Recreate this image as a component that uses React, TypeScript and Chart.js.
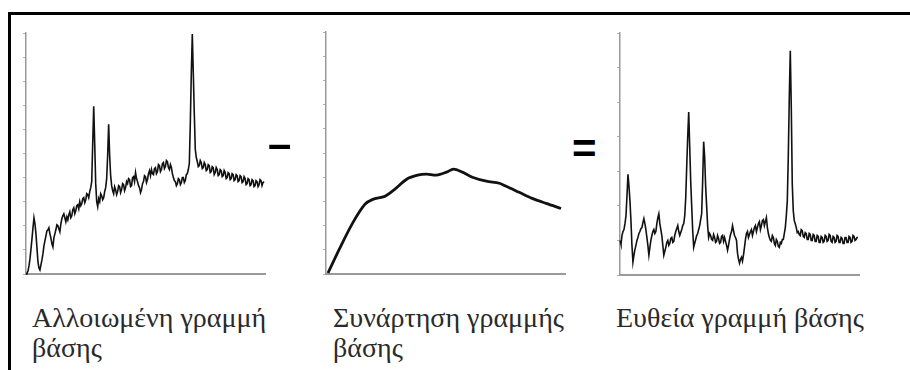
import React, { useEffect, useRef } from "react";
import { Chart, registerables } from "chart.js";

Chart.register(...registerables);

// Altered baseline spectrum: intensity per channel (channels 0..239)
const alteredY = [
  0,1,3,8,15,25,35,46,56,50,40,26,12,6,4,
  9,14,20,28,33,38,43,44,46,40,36,30,27,36,40,44,49,48,45,42,50,55,58,60,56,52,
  57,54,59,62,56,58,64,66,60,63,68,69,65,72,68,70,75,76,71,74,80,79,76,82,86,92,
  130,167,130,90,72,67,75,72,80,78,74,76,82,86,95,118,149,118,98,88,83,80,87,84,79,82,88,87,81,84,90,89,83,86,92,90,95,94,87,88,96,97,92,101,95,92,88,86,81,84,90,92,98,97,91,94,100,103,98,104,100,99,105,106,100,102,109,108,102,104,110,111,105,107,113,112,106,104,109,106,100,96,93,92,88,90,95,94,89,91,96,96,91,93,99,100,104,110,
  150,200,239,200,160,124,116,112,107,108,113,111,105,106,111,109,103,104,109,108,101,102,107,106,99,101,106,104,98,99,104,103,97,98,103,101,95,96,101,100,94,95,100,99,93,94,99,98,92,93,98,97,91,92,97,95,89,90,95,94,88,89,94,93,87,88,93,92,87,89,94,93,88,91,92
];

// Baseline function: channel positions and values
const baseX = [2,14,27,39,47,59,69,81,92,101,111,121,128,137,147,161,174,181,194,207,221,236];
const baseY = [1,26,51,69,74,77,84,94,98,99,98,101,104,101,96,92,90,87,81,75,70,65];

// Corrected spectrum: intensity per channel (channels 0..239)
const corrY = [
  35,31,40,44,46,52,60,80,102,90,75,55,30,13,20,26,30,35,38,42,44,47,48,53,57,52,46,38,30,20,28,35,40,44,46,42,44,52,58,62,52,46,40,30,20,24,28,33,35,30,32,37,38,33,34,40,44,47,50,44,40,43,46,50,52,60,78,110,140,165,130,95,70,45,28,32,36,40,42,46,50,56,62,95,135,120,90,70,50,38,42,40,36,35,41,38,33,34,40,37,32,33,39,40,34,38,34,30,25,30,36,41,44,50,45,40,38,35,22,16,12,16,18,14,20,28,36,42,44,38,41,44,46,40,44,48,50,44,48,52,54,46,50,55,56,50,54,58,48,42,38,35,34,40,38,32,30,36,34,29,28,33,32,36,36,42,48,60,75,120,180,227,170,92,65,55,52,48,43,44,41,40,46,45,39,38,43,42,36,36,42,41,35,35,41,40,34,34,40,39,33,33,39,38,33,34,40,39,34,35,41,40,34,33,39,38,33,34,40,39,33,33,38,37,32,32,38,38,33,33,39,38,33,34,40,39,35,36,38,38
];

const labels1 = ["Αλλοιωμένη γραμμή", "βάσης"];
const labels2 = ["Συνάρτηση γραμμής", "βάσης"];
const labels3 = ["Ευθεία γραμμή βάσης"];

type PanelProps = {
  xs: number[] | null;
  ys: number[];
  yMax: number;
  yStep: number;
  lineWidth: number;
  tension: number;
  left: number;
  top: number;
  width: number;
  height: number;
};

function Panel(p: PanelProps) {
  const ref = useRef<HTMLCanvasElement | null>(null);
  useEffect(() => {
    if (!ref.current) return;
    const data = p.ys.map((y, i) => ({ x: p.xs ? p.xs[i] : i, y }));
    const chart = new Chart(ref.current, {
      type: "line",
      data: {
        datasets: [
          {
            data,
            borderColor: "#111",
            borderWidth: p.lineWidth,
            pointRadius: 0,
            tension: p.tension,
            fill: false,
            clip: false as any,
          },
        ],
      },
      options: {
        animation: false,
        responsive: false,
        devicePixelRatio: 1,
        layout: { padding: { top: 5, right: 5, bottom: 5, left: 0 } },
        plugins: { legend: { display: false }, tooltip: { enabled: false } },
        scales: {
          x: {
            type: "linear",
            min: 0,
            max: 240,
            grid: { display: false, drawTicks: false },
            ticks: { display: false },
            border: { display: true, color: "#9a9a9a", width: 2 },
            afterFit: (s: any) => {
              s.height = 0;
            },
          },
          y: {
            type: "linear",
            min: 0,
            max: p.yMax,
            grid: {
              display: true,
              drawOnChartArea: false,
              drawTicks: true,
              tickLength: 3,
              color: "#b0b0b0",
              lineWidth: 1,
            },
            ticks: { display: false, stepSize: p.yStep },
            border: { display: true, color: "#9a9a9a", width: 1.5 },
            afterFit: (s: any) => {
              s.width = 6;
            },
          },
        },
      },
    });
    return () => chart.destroy();
  }, []);
  return (
    <canvas
      ref={ref}
      width={p.width}
      height={p.height}
      style={{
        position: "absolute",
        left: p.left,
        top: p.top,
        width: p.width,
        height: p.height,
      }}
    />
  );
}

const labelStyle: React.CSSProperties = {
  position: "absolute",
  fontFamily: '"Liberation Serif", "Times New Roman", Times, serif',
  fontSize: 28,
  lineHeight: "30px",
  color: "#2a2a2a",
  whiteSpace: "nowrap",
  top: 303,
};

export default function App() {
  return (
    <div
      style={{
        position: "absolute",
        left: 0,
        top: 0,
        width: 910,
        height: 370,
        overflow: "hidden",
        background: "#fff",
      }}
    >
      <div
        style={{
          position: "absolute",
          left: 8,
          top: 12,
          width: 1000,
          height: 500,
          borderLeft: "3px solid #000",
          borderTop: "3px solid #000",
        }}
      />
      <Panel xs={null} ys={alteredY} yMax={240} yStep={24} lineWidth={1.6} tension={0} left={20} top={28} width={250} height={251} />
      <Panel xs={baseX} ys={baseY} yMax={240} yStep={24} lineWidth={2.8} tension={0.3} left={320} top={27} width={250} height={252} />
      <Panel xs={null} ys={corrY} yMax={245} yStep={35} lineWidth={1.6} tension={0} left={614} top={28} width={250} height={252} />
      <div
        style={{
          position: "absolute",
          left: 268,
          top: 119,
          fontFamily: "'Liberation Sans', Arial, sans-serif",
          fontWeight: "bold",
          fontSize: 42,
          lineHeight: "50px",
          color: "#000",
        }}
      >
        –
      </div>
      <div
        style={{
          position: "absolute",
          left: 572,
          top: 124,
          fontFamily: "'Liberation Sans', Arial, sans-serif",
          fontWeight: "bold",
          fontSize: 42,
          lineHeight: "50px",
          color: "#000",
        }}
      >
        =
      </div>
      <div style={{ ...labelStyle, left: 32 }}>
        {labels1[0]}
        <br />
        {labels1[1]}
      </div>
      <div style={{ ...labelStyle, left: 333 }}>
        {labels2[0]}
        <br />
        {labels2[1]}
      </div>
      <div style={{ ...labelStyle, left: 616 }}>{labels3[0]}</div>
    </div>
  );
}
